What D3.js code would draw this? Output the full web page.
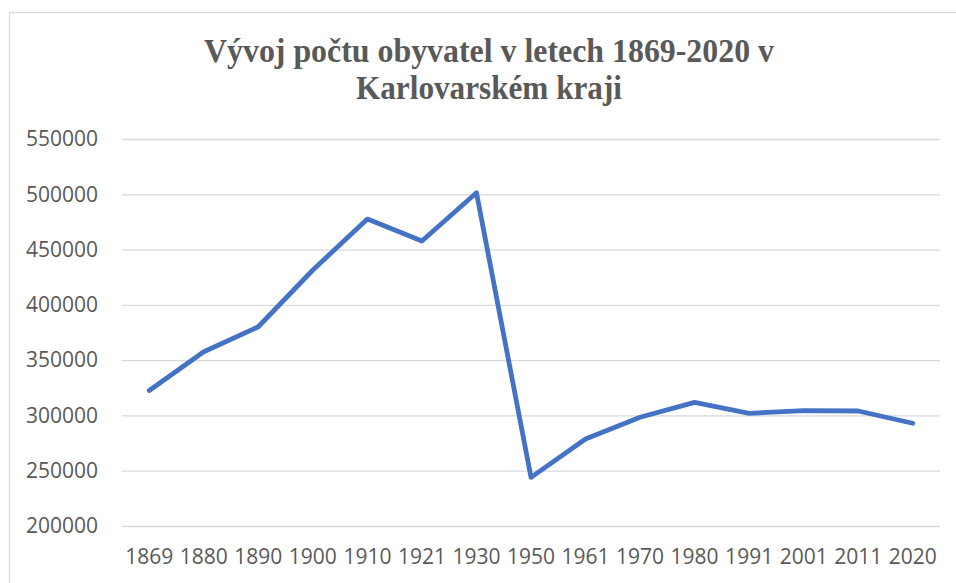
<!DOCTYPE html>
<html>
<head>
<meta charset="utf-8">
<script src="https://cdn.jsdelivr.net/npm/d3@7"></script>
<style>
  body { margin: 0; background: #fff; }
  .axis path { display: none; }
  .y.axis line { stroke: #d9d9d9; stroke-width: 1.3; }
  .axis text { font-family: "Open Sans", sans-serif; font-size: 21px; fill: #595959; }
</style>
</head>
<body>
<div class="main"></div>
<script>
// data
const years = ["1869", "1880", "1890", "1900", "1910", "1921", "1930", "1950",
               "1961", "1970", "1980", "1991", "2001", "2011", "2020"];
const population = [322500, 357600, 380200, 431500, 477600, 457700, 501400, 244000,
                    278700, 298300, 311800, 301900, 304300, 304000, 292900];
const yTicks = [200000, 250000, 300000, 350000, 400000, 450000, 500000, 550000];
const titleLines = ["Vývoj počtu obyvatel v letech 1869-2020 v", "Karlovarském kraji"];

// layout
width = 956;
height = 583;
plot = { left: 122, right: 940, top: 139, bottom: 526 };

const svg = d3.select('.main').append('svg')
    .attr("width", width)
    .attr("height", height);

// chart frame
svg.append("rect")
    .attr("x", 9.5)
    .attr("y", 12.5)
    .attr("width", 960)
    .attr("height", 600)
    .attr("fill", "#fff")
    .attr("stroke", "#d9d9d9")
    .attr("stroke-width", 1.3);

let xScale = d3.scaleBand().domain(years).range([plot.left, plot.right]);
let yScale = d3.scaleLinear().domain([200000, 550000]).range([plot.bottom, plot.top]);

// y axis with gridlines
let yAxis = d3.axisLeft(yScale)
    .tickValues(yTicks)
    .tickFormat(d3.format("d"))
    .tickSize(-(plot.right - plot.left))
    .tickPadding(24);

svg.append("g")
    .attr("class", "y axis")
    .attr("transform", "translate(" + plot.left + ",0)")
    .call(yAxis);

// x axis labels only
let xAxis = d3.axisBottom(xScale).tickSize(0).tickPadding(0);

svg.append("g")
    .attr("class", "x axis")
    .attr("transform", "translate(0," + plot.bottom + ")")
    .call(xAxis)
    .selectAll("text")
    .attr("y", 31)
    .attr("dy", "0.35em");

// the line
const line = d3.line()
    .x(function(d, i) { return xScale(years[i]) + xScale.bandwidth() / 2; })
    .y(function(d) { return yScale(d); });

svg.append("path")
    .datum(population)
    .attr("d", line)
    .attr("fill", "none")
    .attr("stroke", "#4472c4")
    .attr("stroke-width", 4.8)
    .attr("stroke-linejoin", "round")
    .attr("stroke-linecap", "round");

// title, squeezed a bit like the original
const titleWidths = [570, 266];
svg.selectAll(".title").data(titleLines).enter().append("text")
    .attr("class", "title")
    .attr("x", 489)
    .attr("y", function(d, i) { return 62 + i * 37; })
    .attr("text-anchor", "middle")
    .attr("font-family", "'Liberation Serif', 'Times New Roman', serif")
    .attr("font-weight", "bold")
    .attr("font-size", "34px")
    .attr("fill", "#595959")
    .attr("textLength", function(d, i) { return titleWidths[i]; })
    .attr("lengthAdjust", "spacingAndGlyphs")
    .text(function(d) { return d; });
</script>
</body>
</html>
